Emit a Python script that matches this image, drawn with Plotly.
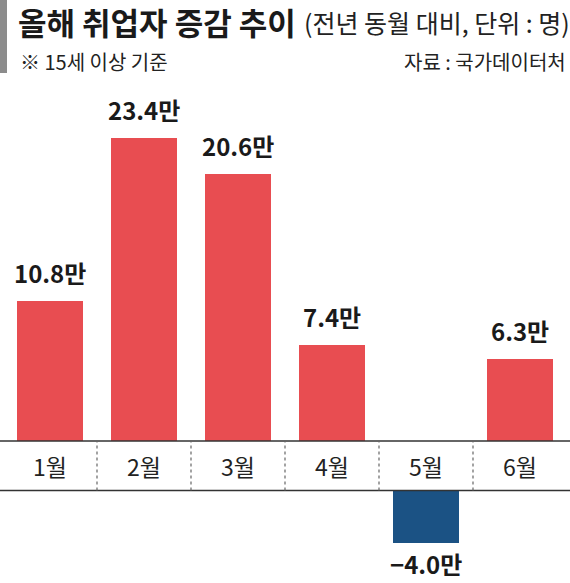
import plotly.graph_objects as go

months = ["1월", "2월", "3월", "4월", "5월", "6월"]
values = [10.8, 23.4, 20.6, 7.4, -4.0, 6.3]
value_labels = ["10.8만", "23.4만", "20.6만", "7.4만", "−4.0만", "6.3만"]

title_main = "올해 취업자 증감 추이"
title_sub = "(전년 동월 대비, 단위 : 명)"
note = "※ 15세 이상 기준"
source = "자료 : 국가데이터처"

W, H = 570, 583
FONT = "Noto Sans CJK KR"
RED = "#E84D51"
BLUE = "#1B5284"

ppu = 12.95            # pixels per unit
top_base_px = 441      # zero line of positive bars
bot_base_px = 490.5    # zero line of negative bars

pos = [v if v > 0 else None for v in values]
neg = [v if v < 0 else None for v in values]

fig = go.Figure()
fig.add_trace(go.Bar(x=months, y=pos, marker=dict(color=RED, line=dict(width=0)),
                     width=0.71, xaxis="x", yaxis="y", hoverinfo="skip"))
fig.add_trace(go.Bar(x=months, y=neg, marker=dict(color=BLUE, line=dict(width=0)),
                     width=0.71, xaxis="x2", yaxis="y2", hoverinfo="skip"))

xr = [-50 / 94, -50 / 94 + W / 94]
fig.update_layout(
    width=W, height=H,
    margin=dict(l=0, r=0, t=0, b=0),
    paper_bgcolor="white", plot_bgcolor="white",
    showlegend=False,
    bargap=0,
    xaxis=dict(range=xr, visible=False, type="category", domain=[0, 1], anchor="y"),
    xaxis2=dict(range=xr, visible=False, type="category", domain=[0, 1], anchor="y2", matches="x"),
    yaxis=dict(domain=[(H - top_base_px) / H, 1], range=[0, top_base_px / ppu], visible=False),
    yaxis2=dict(domain=[0, (H - bot_base_px) / H], range=[-(H - bot_base_px) / ppu, 0], visible=False),
)

ann = []
# value labels
for m, v, lab in zip(months, values, value_labels):
    if v >= 0:
        ann.append(dict(x=m, y=v, xref="x", yref="y", text=lab, showarrow=False,
                        yanchor="bottom", yshift=9,
                        font=dict(family=FONT, size=24, color="#1a1a1a", weight="bold")))
    else:
        ann.append(dict(x=m, y=v, xref="x2", yref="y2", text=lab, showarrow=False,
                        yanchor="top", yshift=-2,
                        font=dict(family=FONT, size=24, color="#1a1a1a", weight="bold")))
# month labels
for m in months:
    ann.append(dict(x=m, y=(H - 466) / H, xref="x", yref="paper", text=m, showarrow=False,
                    yanchor="middle", font=dict(family=FONT, size=23, color="#222")))
# titles
ann.append(dict(x=16 / W, y=(H - 22) / H, xref="paper", yref="paper", text=title_main,
                showarrow=False, xanchor="left", yanchor="middle",
                font=dict(family=FONT, size=31, color="#1a1a1a", weight="bold")))
ann.append(dict(x=302 / W, y=(H - 22) / H, xref="paper", yref="paper", text=title_sub,
                showarrow=False, xanchor="left", yanchor="middle",
                font=dict(family=FONT, size=25, color="#222")))
ann.append(dict(x=18 / W, y=(H - 62) / H, xref="paper", yref="paper", text=note,
                showarrow=False, xanchor="left", yanchor="middle",
                font=dict(family=FONT, size=20, color="#222")))
ann.append(dict(x=568 / W, y=(H - 62) / H, xref="paper", yref="paper", text=source,
                showarrow=False, xanchor="right", yanchor="middle",
                font=dict(family=FONT, size=20, color="#222")))
fig.update_layout(annotations=ann)

shapes = []
# gray bar next to title
shapes.append(dict(type="rect", xref="paper", yref="paper", x0=0, x1=7 / W,
                   y0=(H - 73) / H, y1=1, fillcolor="#8c8c8c", line=dict(width=0)))
# horizontal lines of the month band
for py in (top_base_px, bot_base_px):
    shapes.append(dict(type="line", xref="paper", yref="paper", x0=0, x1=1,
                       y0=(H - py) / H, y1=(H - py) / H, line=dict(color="#333", width=1.6)))
# dashed separators
for i in range(len(months) - 1):
    shapes.append(dict(type="line", xref="x", yref="paper", x0=i + 0.5, x1=i + 0.5,
                       y0=(H - bot_base_px) / H, y1=(H - top_base_px) / H,
                       line=dict(color="#666", width=1.2, dash="3px,3px")))
fig.update_layout(shapes=shapes)

fig.write_html("out.html")
